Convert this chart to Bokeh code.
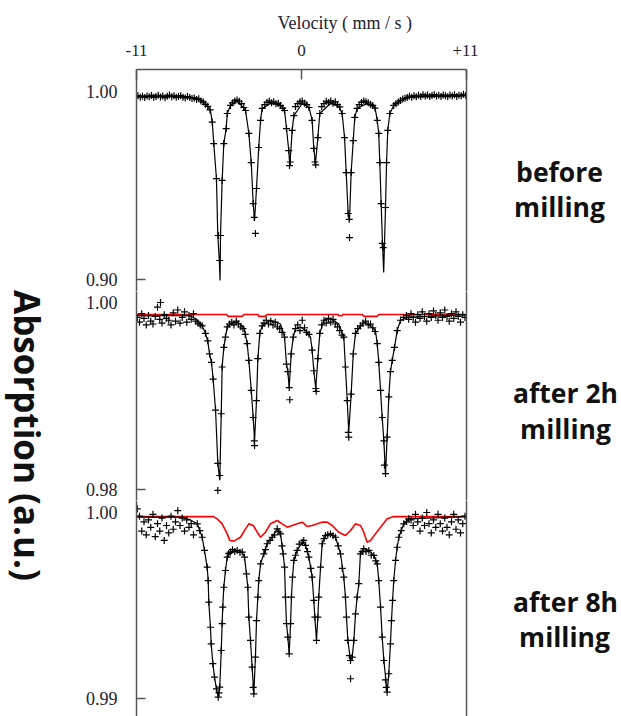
import math
from bokeh.plotting import figure
from bokeh.models import Range1d, LinearAxis, FixedTicker, PrintfTickFormatter, Title
from bokeh.layouts import row, column
from bokeh.embed import file_html
from bokeh.resources import INLINE
from bokeh.core.properties import value

# ---------------- data (velocity mm/s, relative absorption) ----------------
velocity_ticks = [-11, 0, 11]
velocity_tick_labels = {-11: "-11", 0: "0", 11: "+11"}

before_ticks = [0.90, 1.00]
after2_ticks = [0.98, 1.00]
after8_ticks = [0.99, 1.00]

sample_labels = [["before", "milling"], ["after 2h", "milling"], ["after 8h", "milling"]]

before_fit = [
    (-10.95, 0.9974), (-8.0, 0.9974), (-7.0, 0.9966), (-6.6, 0.9950), (-6.3, 0.9926),
    (-6.07, 0.9899), (-5.95, 0.9837), (-5.85, 0.9723), (-5.67, 0.9537), (-5.58, 0.9234),
    (-5.48, 0.9101), (-5.43, 0.8995), (-5.40, 0.9234), (-5.29, 0.9527), (-5.18, 0.9723),
    (-5.02, 0.9803), (-4.95, 0.9883), (-4.73, 0.9926), (-4.29, 0.9952), (-3.73, 0.9899),
    (-3.51, 0.9777), (-3.35, 0.9622), (-3.22, 0.9404), (-3.13, 0.9314), (-3.0, 0.9484),
    (-2.85, 0.9702), (-2.73, 0.9846), (-2.62, 0.9910), (-2.07, 0.9936), (-1.4, 0.9930),
    (-1.13, 0.9899), (-1.0, 0.9803), (-0.85, 0.9686), (-0.78, 0.9606), (-0.62, 0.9793),
    (-0.51, 0.9872), (0.05, 0.9936), (0.5, 0.9915), (0.71, 0.9846), (0.82, 0.9697),
    (0.93, 0.9617), (1.09, 0.9755), (1.22, 0.9883), (1.93, 0.9936), (2.5, 0.9920),
    (2.71, 0.9883), (2.87, 0.9755), (2.98, 0.9569), (3.11, 0.9351), (3.2, 0.9314),
    (3.31, 0.9569), (3.45, 0.9739), (3.55, 0.9862), (3.71, 0.9910), (4.38, 0.9936),
    (4.9, 0.9915), (5.05, 0.9846), (5.15, 0.9777), (5.22, 0.9622), (5.31, 0.9404),
    (5.4, 0.9192), (5.48, 0.9037), (5.6, 0.9383), (5.67, 0.9622), (5.75, 0.9793),
    (5.89, 0.9883), (6.15, 0.9926), (6.6, 0.9952), (7.3, 0.9970), (10.95, 0.9978),
]

before_points = [
    (-10.9, 0.9978), (-10.75, 0.9970), (-10.6, 0.9975), (-10.45, 0.9968), (-10.3, 0.9976),
    (-10.15, 0.9972), (-10.0, 0.9979), (-9.85, 0.9969), (-9.7, 0.9974), (-9.55, 0.9980),
    (-9.4, 0.9971), (-9.25, 0.9976), (-9.1, 0.9967), (-8.95, 0.9975), (-8.8, 0.9981),
    (-8.65, 0.9972), (-8.5, 0.9977), (-8.35, 0.9969), (-8.2, 0.9974), (-8.05, 0.9978),
    (-7.9, 0.9970), (-7.75, 0.9966), (-7.6, 0.9973), (-7.45, 0.9968), (-7.3, 0.9963),
    (-7.15, 0.9966), (-7.0, 0.9958), (-6.85, 0.9961), (-6.7, 0.9950), (-6.55, 0.9944),
    (-6.4, 0.9932), (-6.25, 0.9921), (-6.1, 0.9902), (-5.95, 0.9837), (-5.85, 0.9723),
    (-5.67, 0.9537), (-5.55, 0.9234), (-5.40, 0.9234), (-5.45, 0.9101), (-5.29, 0.9527),
    (-5.18, 0.9723), (-5.02, 0.9803), (-4.95, 0.9883), (-4.73, 0.9926), (-4.6, 0.9940),
    (-4.45, 0.9950), (-4.3, 0.9955), (-4.15, 0.9948), (-4.0, 0.9935), (-3.85, 0.9915),
    (-3.73, 0.9899), (-3.51, 0.9777), (-3.35, 0.9622), (-3.22, 0.9404), (-3.15, 0.9330),
    (-3.07, 0.9245), (-3.0, 0.9484), (-2.85, 0.9702), (-2.73, 0.9846), (-2.62, 0.9910),
    (-2.45, 0.9930), (-2.3, 0.9942), (-2.15, 0.9950), (-2.0, 0.9940), (-1.85, 0.9945),
    (-1.7, 0.9935), (-1.55, 0.9938), (-1.4, 0.9925), (-1.25, 0.9912), (-1.13, 0.9899),
    (-1.0, 0.9803), (-0.85, 0.9686), (-0.80, 0.9606), (-0.75, 0.9625), (-0.62, 0.9793),
    (-0.51, 0.9872), (-0.4, 0.9920), (-0.25, 0.9935), (-0.1, 0.9945), (0.05, 0.9950),
    (0.2, 0.9938), (0.35, 0.9930), (0.5, 0.9915), (0.71, 0.9846), (0.82, 0.9697),
    (0.90, 0.9625), (0.95, 0.9610), (1.09, 0.9755), (1.22, 0.9883), (1.35, 0.9920),
    (1.5, 0.9935), (1.65, 0.9948), (1.8, 0.9942), (1.95, 0.9950), (2.1, 0.9938),
    (2.25, 0.9945), (2.4, 0.9930), (2.55, 0.9918), (2.71, 0.9883), (2.87, 0.9755),
    (2.98, 0.9569), (3.11, 0.9351), (3.18, 0.9320), (3.2, 0.9223), (3.31, 0.9569),
    (3.45, 0.9739), (3.55, 0.9862), (3.71, 0.9910), (3.85, 0.9930), (4.0, 0.9942),
    (4.15, 0.9950), (4.3, 0.9945), (4.45, 0.9940), (4.6, 0.9932), (4.75, 0.9925),
    (4.9, 0.9912), (5.05, 0.9846), (5.15, 0.9777), (5.22, 0.9622), (5.31, 0.9404),
    (5.38, 0.9192), (5.45, 0.9170), (5.6, 0.9383), (5.67, 0.9622), (5.75, 0.9793),
    (5.89, 0.9883), (6.15, 0.9926), (6.3, 0.9935), (6.45, 0.9944), (6.6, 0.9952),
    (6.75, 0.9960), (6.9, 0.9964), (7.05, 0.9968), (7.2, 0.9975), (7.35, 0.9970),
    (7.5, 0.9978), (7.65, 0.9972), (7.8, 0.9980), (7.95, 0.9974), (8.1, 0.9983),
    (8.25, 0.9976), (8.4, 0.9981), (8.55, 0.9973), (8.7, 0.9979), (8.85, 0.9984),
    (9.0, 0.9975), (9.15, 0.9980), (9.3, 0.9973), (9.45, 0.9982), (9.6, 0.9977),
    (9.75, 0.9972), (9.9, 0.9981), (10.05, 0.9976), (10.2, 0.9983), (10.35, 0.9974),
    (10.5, 0.9980), (10.65, 0.9977), (10.8, 0.9985), (10.95, 0.9979),
]

after2_fit = [
    (-10.95, 0.9986), (-7.5, 0.9986), (-7.0, 0.9982), (-6.62, 0.9975), (-6.4, 0.9967),
    (-6.25, 0.9959), (-6.13, 0.9945), (-6.0, 0.9936), (-5.89, 0.9918), (-5.73, 0.9885),
    (-5.58, 0.9828), (-5.45, 0.9810), (-5.35, 0.9881), (-5.29, 0.9931), (-5.18, 0.9952),
    (-5.07, 0.9963), (-4.95, 0.9974), (-4.73, 0.9977), (-4.29, 0.9979), (-3.85, 0.9974),
    (-3.62, 0.9956), (-3.51, 0.9938), (-3.35, 0.9906), (-3.22, 0.9877), (-3.13, 0.9852),
    (-3.0, 0.9895), (-2.91, 0.9940), (-2.78, 0.9967), (-2.62, 0.9975), (-2.07, 0.9981),
    (-1.4, 0.9977), (-1.13, 0.9963), (-1.0, 0.9934), (-0.91, 0.9926), (-0.82, 0.9909),
    (-0.69, 0.9945), (-0.55, 0.9963), (-0.4, 0.9972), (-0.07, 0.9974), (0.27, 0.9970),
    (0.6, 0.9963), (0.71, 0.9949), (0.82, 0.9927), (0.95, 0.9908), (1.09, 0.9940),
    (1.22, 0.9967), (1.49, 0.9981), (1.93, 0.9983), (2.49, 0.9977), (2.82, 0.9963),
    (2.93, 0.9931), (3.05, 0.9895), (3.15, 0.9861), (3.31, 0.9902), (3.45, 0.9945),
    (3.6, 0.9967), (3.93, 0.9975), (4.27, 0.9979), (4.93, 0.9970), (5.05, 0.9956),
    (5.15, 0.9936), (5.27, 0.9906), (5.38, 0.9877), (5.49, 0.9852), (5.6, 0.9817),
    (5.71, 0.9856), (5.82, 0.9899), (5.93, 0.9926), (6.05, 0.9938), (6.2, 0.9952),
    (6.38, 0.9970), (6.6, 0.9981), (7.05, 0.9984), (10.95, 0.9987),
]

after2_points = [
    (-10.95, 0.9984), (-10.8, 0.9979), (-10.65, 0.9988), (-10.5, 0.9983), (-10.35, 0.9976),
    (-10.2, 0.9986), (-10.05, 0.9980), (-9.9, 0.9977), (-9.75, 0.9985), (-9.6, 0.9995),
    (-9.45, 0.9982), (-9.4, 1.0000), (-9.3, 0.9978), (-9.15, 0.9987), (-9.0, 0.9983),
    (-8.85, 0.9981), (-8.7, 0.9976), (-8.55, 0.9989), (-8.4, 0.9980), (-8.25, 0.9992),
    (-8.1, 0.9978), (-7.95, 0.9984), (-7.8, 0.9990), (-7.65, 0.9979), (-7.5, 0.9986),
    (-7.35, 0.9982), (-7.2, 0.9988), (-7.05, 0.9980), (-6.9, 0.9978), (-6.75, 0.9976),
    (-6.62, 0.9975), (-6.4, 0.9967), (-6.25, 0.9959), (-6.13, 0.9945), (-6.0, 0.9936),
    (-5.89, 0.9918), (-5.73, 0.9885), (-5.58, 0.9828), (-5.58, 0.9799), (-5.45, 0.9815),
    (-5.35, 0.9881), (-5.29, 0.9931), (-5.18, 0.9952), (-5.07, 0.9963), (-4.95, 0.9974),
    (-4.8, 0.9977), (-4.65, 0.9979), (-4.5, 0.9976), (-4.35, 0.9980), (-4.2, 0.9977),
    (-4.05, 0.9974), (-3.9, 0.9972), (-3.75, 0.9966), (-3.62, 0.9956), (-3.51, 0.9938),
    (-3.35, 0.9906), (-3.22, 0.9877), (-3.15, 0.9852), (-3.13, 0.9847), (-3.0, 0.9895),
    (-2.91, 0.9940), (-2.78, 0.9967), (-2.62, 0.9975), (-2.5, 0.9978), (-2.35, 0.9981),
    (-2.2, 0.9977), (-2.05, 0.9980), (-1.9, 0.9976), (-1.75, 0.9979), (-1.6, 0.9974),
    (-1.45, 0.9972), (-1.3, 0.9968), (-1.13, 0.9963), (-1.0, 0.9934), (-0.91, 0.9926),
    (-0.82, 0.9909), (-0.78, 0.9896), (-0.69, 0.9945), (-0.55, 0.9963), (-0.4, 0.9972),
    (-0.25, 0.9976), (-0.1, 0.9970), (0.05, 0.9981), (0.2, 0.9973), (0.35, 0.9968),
    (0.5, 0.9966), (0.71, 0.9949), (0.82, 0.9927), (0.95, 0.9908), (0.98, 0.9905),
    (1.09, 0.9940), (1.22, 0.9967), (1.35, 0.9976), (1.5, 0.9981), (1.65, 0.9978),
    (1.8, 0.9983), (1.95, 0.9979), (2.1, 0.9982), (2.25, 0.9977), (2.4, 0.9974),
    (2.55, 0.9970), (2.7, 0.9965), (2.82, 0.9963), (2.93, 0.9931), (3.05, 0.9895),
    (3.12, 0.9861), (3.15, 0.9856), (3.31, 0.9902), (3.45, 0.9945), (3.6, 0.9967),
    (3.75, 0.9972), (3.93, 0.9975), (4.1, 0.9978), (4.27, 0.9980), (4.45, 0.9976),
    (4.6, 0.9977), (4.75, 0.9973), (4.9, 0.9969), (5.05, 0.9956), (5.15, 0.9936),
    (5.27, 0.9906), (5.38, 0.9877), (5.49, 0.9852), (5.53, 0.9826), (5.6, 0.9817),
    (5.71, 0.9856), (5.82, 0.9899), (5.93, 0.9926), (6.05, 0.9938), (6.2, 0.9952),
    (6.38, 0.9970), (6.6, 0.9981), (6.8, 0.9984), (7.0, 0.9986), (7.15, 0.9982),
    (7.3, 0.9988), (7.45, 0.9984), (7.6, 0.9979), (7.75, 0.9987), (7.9, 0.9983),
    (8.05, 0.9990), (8.2, 0.9985), (8.35, 0.9980), (8.5, 0.9988), (8.65, 0.9984),
    (8.8, 0.9991), (8.95, 0.9986), (9.1, 0.9981), (9.25, 0.9989), (9.4, 0.9984),
    (9.55, 0.9992), (9.7, 0.9985), (9.85, 0.9980), (10.0, 0.9988), (10.15, 0.9983),
    (10.3, 0.9990), (10.45, 0.9985), (10.6, 0.9979), (10.75, 0.9987), (10.9, 0.9984),
]

after2_component = [
    (-10.95, 0.99872), (-5.0, 0.99872), (-4.9, 0.99852), (-3.95, 0.99852), (-3.85, 0.99872),
    (-2.9, 0.99872), (-2.85, 0.99852), (-2.4, 0.99852), (-2.3, 0.99872), (2.45, 0.99872),
    (2.5, 0.99858), (2.7, 0.99858), (2.75, 0.99872), (4.05, 0.99872), (4.15, 0.99852),
    (5.05, 0.99852), (5.15, 0.99872), (10.95, 0.99872),
]

after8_fit = [
    (-10.95, 0.99975), (-8.0, 0.99975), (-7.4, 0.99960), (-6.95, 0.99939), (-6.78, 0.99903),
    (-6.62, 0.99867), (-6.47, 0.99796), (-6.29, 0.99706), (-6.22, 0.99634), (-6.18, 0.99518),
    (-6.07, 0.99383), (-6.02, 0.99294), (-5.91, 0.99187), (-5.80, 0.99115), (-5.67, 0.99052),
    (-5.55, 0.99007), (-5.45, 0.99061), (-5.35, 0.99258), (-5.29, 0.99402), (-5.25, 0.99491),
    (-5.18, 0.99598), (-5.07, 0.99688), (-4.95, 0.99760), (-4.73, 0.99787), (-4.29, 0.99796),
    (-3.95, 0.99787), (-3.80, 0.99760), (-3.67, 0.99670), (-3.58, 0.99598), (-3.51, 0.99437),
    (-3.40, 0.99312), (-3.29, 0.99168), (-3.18, 0.99025), (-3.07, 0.99222), (-3.0, 0.99419),
    (-2.91, 0.99545), (-2.85, 0.99634), (-2.73, 0.99724), (-2.51, 0.99778), (-2.29, 0.99832),
    (-1.95, 0.99867), (-1.62, 0.99912), (-1.4, 0.99885), (-1.22, 0.99778), (-1.13, 0.99706),
    (-1.07, 0.99545), (-1.0, 0.99402), (-0.91, 0.99330), (-0.82, 0.99240), (-0.73, 0.99402),
    (-0.67, 0.99545), (-0.6, 0.99652), (-0.51, 0.99742), (-0.29, 0.99796), (0.05, 0.99840),
    (0.27, 0.99823), (0.49, 0.99760), (0.71, 0.99652), (0.82, 0.99527), (0.89, 0.99437),
    (1.0, 0.99312), (1.09, 0.99437), (1.15, 0.99545), (1.27, 0.99706), (1.38, 0.99832),
    (1.6, 0.99876), (1.93, 0.99885), (2.27, 0.99867), (2.6, 0.99778), (2.82, 0.99652),
    (2.93, 0.99545), (3.0, 0.99437), (3.09, 0.99312), (3.27, 0.99204), (3.38, 0.99222),
    (3.49, 0.99312), (3.6, 0.99455), (3.71, 0.99545), (3.82, 0.99617), (3.93, 0.99778),
    (4.15, 0.99805), (4.49, 0.99796), (4.82, 0.99769), (5.05, 0.99724), (5.15, 0.99634),
    (5.27, 0.99491), (5.38, 0.99330), (5.49, 0.99204), (5.71, 0.99034), (5.82, 0.99133),
    (5.93, 0.99294), (6.0, 0.99419), (6.07, 0.99527), (6.15, 0.99634), (6.27, 0.99742),
    (6.38, 0.99813), (6.49, 0.99867), (6.65, 0.99903), (6.82, 0.99939), (7.15, 0.99966),
    (10.95, 0.99978),
]

after8_points = [
    (-10.95, 1.0002), (-10.8, 0.9998), (-10.65, 0.9990), (-10.5, 0.9995), (-10.35, 0.9988),
    (-10.2, 0.9996), (-10.05, 0.9992), (-9.9, 0.9999), (-9.75, 0.9987), (-9.6, 0.9994),
    (-9.45, 0.9990), (-9.3, 0.9997), (-9.15, 0.9985), (-9.0, 0.9993), (-8.85, 0.9989),
    (-8.7, 0.9998), (-8.55, 0.9991), (-8.4, 0.9995), (-8.25, 1.0001), (-8.1, 0.9993),
    (-7.95, 0.9997), (-7.8, 0.9990), (-7.65, 0.9996), (-7.5, 0.9992), (-7.35, 0.9994),
    (-7.2, 0.9988), (-6.95, 0.99939), (-6.78, 0.99903), (-6.62, 0.99867), (-6.47, 0.99796),
    (-6.29, 0.99706), (-6.22, 0.99634), (-6.18, 0.99518), (-6.07, 0.99383), (-6.02, 0.99294),
    (-5.91, 0.99187), (-5.80, 0.99115), (-5.67, 0.99052), (-5.55, 0.99007), (-5.5, 0.99030),
    (-5.45, 0.99061), (-5.35, 0.99258), (-5.29, 0.99402), (-5.25, 0.99491), (-5.18, 0.99598),
    (-5.07, 0.99688), (-4.95, 0.99760), (-4.85, 0.99780), (-4.73, 0.99787), (-4.6, 0.99800),
    (-4.45, 0.99790), (-4.29, 0.99796), (-4.1, 0.99785), (-3.95, 0.99787), (-3.80, 0.99760),
    (-3.67, 0.99670), (-3.58, 0.99598), (-3.51, 0.99437), (-3.40, 0.99312), (-3.29, 0.99168),
    (-3.22, 0.99060), (-3.18, 0.99025), (-3.07, 0.99222), (-3.0, 0.99419), (-2.91, 0.99545),
    (-2.85, 0.99634), (-2.73, 0.99724), (-2.51, 0.99778), (-2.4, 0.99800), (-2.29, 0.99832),
    (-2.1, 0.99850), (-1.95, 0.99867), (-1.8, 0.99880), (-1.62, 0.99912), (-1.5, 0.99895),
    (-1.4, 0.99885), (-1.3, 0.99820), (-1.22, 0.99778), (-1.13, 0.99706), (-1.07, 0.99545),
    (-1.0, 0.99402), (-0.91, 0.99330), (-0.82, 0.99240), (-0.73, 0.99402), (-0.67, 0.99545),
    (-0.6, 0.99652), (-0.51, 0.99742), (-0.4, 0.99770), (-0.29, 0.99796), (-0.15, 0.99830),
    (0.05, 0.99840), (0.15, 0.99850), (0.27, 0.99823), (0.4, 0.99790), (0.49, 0.99760),
    (0.62, 0.99700), (0.71, 0.99652), (0.82, 0.99527), (0.89, 0.99437), (1.0, 0.99312),
    (1.09, 0.99437), (1.15, 0.99545), (1.27, 0.99706), (1.38, 0.99832), (1.5, 0.99860),
    (1.6, 0.99876), (1.75, 0.99880), (1.93, 0.99885), (2.1, 0.99875), (2.27, 0.99867),
    (2.45, 0.99820), (2.6, 0.99778), (2.72, 0.99700), (2.82, 0.99652), (2.93, 0.99545),
    (3.0, 0.99437), (3.09, 0.99312), (3.2, 0.99230), (3.27, 0.99204), (3.27, 0.99106),
    (3.38, 0.99222), (3.49, 0.99312), (3.6, 0.99455), (3.71, 0.99545), (3.82, 0.99617),
    (3.93, 0.99778), (4.05, 0.99790), (4.15, 0.99805), (4.3, 0.99790), (4.49, 0.99796),
    (4.65, 0.99770), (4.82, 0.99769), (4.95, 0.99740), (5.05, 0.99724), (5.15, 0.99634),
    (5.27, 0.99491), (5.38, 0.99330), (5.49, 0.99204), (5.6, 0.99100), (5.65, 0.99060),
    (5.71, 0.99034), (5.82, 0.99133), (5.93, 0.99294), (6.0, 0.99419), (6.07, 0.99527),
    (6.15, 0.99634), (6.27, 0.99742), (6.38, 0.99813), (6.49, 0.99867), (6.65, 0.99903),
    (6.82, 0.99939), (7.0, 0.99950), (7.15, 0.99966), (7.3, 0.9996), (7.45, 0.9993),
    (7.6, 0.9999), (7.75, 0.9995), (7.9, 0.9990), (8.05, 0.9997), (8.2, 0.9993),
    (8.35, 1.0000), (8.5, 0.9994), (8.65, 0.9989), (8.8, 0.9996), (8.95, 0.9992),
    (9.1, 0.9999), (9.25, 0.9994), (9.4, 0.9990), (9.55, 0.9997), (9.7, 0.9992),
    (9.85, 0.9988), (10.0, 0.9995), (10.15, 0.9999), (10.3, 0.9991), (10.45, 0.9996),
    (10.6, 0.9989), (10.75, 0.9994), (10.9, 0.9998),
]

after8_component = [
    (-10.95, 0.99978), (-5.87, 0.99978), (-5.62, 0.99966), (-5.29, 0.99939), (-4.95, 0.99885),
    (-4.78, 0.99849), (-4.51, 0.99846), (-4.07, 0.99867), (-3.73, 0.99912), (-3.51, 0.99939),
    (-3.22, 0.99930), (-2.95, 0.99894), (-2.73, 0.99867), (-2.4, 0.99894), (-2.07, 0.99939),
    (-1.62, 0.99957), (-1.29, 0.99939), (-0.95, 0.99921), (-0.62, 0.99930), (-0.29, 0.99939),
    (0.05, 0.99948), (0.38, 0.99925), (0.71, 0.99930), (1.05, 0.99939), (1.38, 0.99948),
    (1.71, 0.99948), (2.05, 0.99930), (2.49, 0.99894), (2.93, 0.99876), (3.27, 0.99903),
    (3.6, 0.99939), (3.93, 0.99930), (4.15, 0.99894), (4.38, 0.99840), (4.6, 0.99849),
    (4.93, 0.99885), (5.27, 0.99921), (5.71, 0.99966), (6.15, 0.99978), (10.95, 0.99978),
]

# ---------------- styling / layout ----------------
SERIF = "Liberation Serif"
SANS = "Open Sans"
AXIS_COLOR = "#555555"
TICK_TEXT = "#222233"
LEFT_W = 70          # column holding the rotated y title
PANEL_W = 408        # width of each spectrum panel
RIGHT_BORDER = 12    # room for the right frame line
RIGHT_W = 621 - LEFT_W - PANEL_W

x_range = Range1d(-11, 11)


def unzip(pairs):
    return [p[0] for p in pairs], [p[1] for p in pairs]


def make_panel(height, y_start, y_end, ticks, top_axis, border_top):
    p = figure(width=PANEL_W, height=height, x_range=x_range,
               y_range=Range1d(y_start, y_end),
               x_axis_location="above" if top_axis else None,
               y_axis_location="left",
               toolbar_location=None, output_backend="svg",
               min_border_left=66, min_border_right=RIGHT_BORDER,
               min_border_top=border_top, min_border_bottom=0)
    p.outline_line_color = None
    p.xgrid.visible = False
    p.ygrid.visible = False
    p.background_fill_color = "white"
    p.border_fill_color = "white"

    yax = p.yaxis[0]
    yax.ticker = FixedTicker(ticks=ticks, minor_ticks=[ticks[0]])
    yax.formatter = PrintfTickFormatter(format="%.2f")
    yax.major_tick_in = 0
    yax.major_tick_out = 0
    yax.minor_tick_in = 9
    yax.minor_tick_out = 0
    yax.minor_tick_line_color = AXIS_COLOR
    yax.minor_tick_line_width = 1.5
    yax.axis_line_color = AXIS_COLOR
    yax.axis_line_width = 1.5
    yax.major_label_standoff = 19
    yax.major_label_text_font = SERIF
    yax.major_label_text_font_size = "18px"
    yax.major_label_text_color = TICK_TEXT

    right = LinearAxis(ticker=FixedTicker(ticks=[]),
                       axis_line_color=AXIS_COLOR, axis_line_width=1.5,
                       major_label_text_font_size="0px", major_label_standoff=0,
                       major_tick_in=0, major_tick_out=0,
                       minor_tick_in=0, minor_tick_out=0)
    p.add_layout(right, "right")

    if top_axis:
        xax = p.xaxis[0]
        xax.ticker = FixedTicker(ticks=velocity_ticks)
        xax.major_label_overrides = velocity_tick_labels
        xax.major_tick_in = 10
        xax.major_tick_out = 0
        xax.major_tick_line_color = AXIS_COLOR
        xax.major_tick_line_width = 1.5
        xax.axis_line_color = AXIS_COLOR
        xax.axis_line_width = 1.5
        xax.major_label_standoff = 14
        xax.major_label_text_font = SERIF
        xax.major_label_text_font_size = "17px"
        xax.major_label_text_color = TICK_TEXT
        p.title = Title(text="Velocity ( mm / s )", align="left", offset=141,
                        text_font=SERIF, text_font_size="18px",
                        text_font_style="normal", text_color=TICK_TEXT, standoff=18)
        p.title_location = "above"
    return p


def draw(p, fit, points, component=None):
    if component is not None:
        cx, cy = unzip(component)
        p.line(cx, cy, line_color="red", line_width=1.6)
    fx, fy = unzip(fit)
    p.line(fx, fy, line_color="black", line_width=1.2)
    px, py = unzip(points)
    p.scatter(px, py, marker="cross", size=7, line_color="black", line_width=1.2)


f1 = make_panel(291, 0.89362, 1.0117, before_ticks, True, 69)
draw(f1, before_fit, before_points)

f2 = make_panel(209, 0.978824, 1.001176, after2_ticks, False, 0)
draw(f2, after2_fit, after2_points, after2_component)

f3 = make_panel(216, 0.98903, 1.000645, after8_ticks, False, 0)
draw(f3, after8_fit, after8_points, after8_component)


def text_column(width):
    c = figure(width=width, height=716, x_range=Range1d(0, width), y_range=Range1d(716, 0),
               x_axis_location=None, y_axis_location=None, toolbar_location=None,
               output_backend="svg", min_border=0)
    c.outline_line_color = None
    c.xgrid.visible = False
    c.ygrid.visible = False
    return c


side = text_column(LEFT_W)
side.text(x=[27], y=[435], text=["Absorption (a.u.)"], angle=-math.pi / 2,
          text_align="center", text_baseline="middle", text_font=value(SANS),
          text_font_style="bold", text_font_size="35px", text_color="#111111")

right_col = text_column(RIGHT_W)
label_x = [81, 81, 87, 87, 87, 86]
label_y = [171.7, 206, 392.7, 428.3, 601.7, 636.7]
label_text = [t for pair in sample_labels for t in pair]
right_col.text(x=label_x, y=label_y, text=label_text, text_align="center",
               text_baseline="alphabetic", text_font=value(SANS),
               text_font_style="bold", text_font_size="26.5px", text_color="#111111")

layout = row(side, column(f1, f2, f3), right_col)
open("out.html", "w").write(file_html(layout, INLINE))
